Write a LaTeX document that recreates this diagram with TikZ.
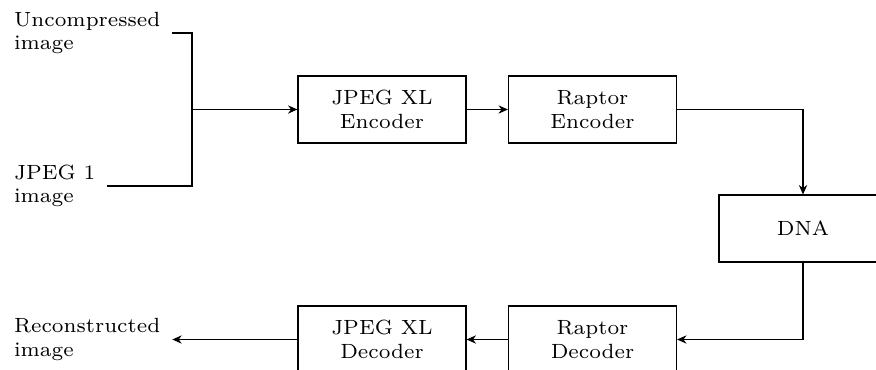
\documentclass[tikz,border=0pt]{standalone}
\usetikzlibrary{arrows.meta}

\tikzset{
  txt/.style={font=\fontsize{7.4}{8.4}\selectfont},
  stage/.style={txt, draw, minimum width=60.5pt, minimum height=24.1pt,
                align=center, inner sep=0pt},
  io/.style={txt, align=left, anchor=west, outer sep=1pt},
  flow/.style={-{Stealth[length=3.4pt, width=3pt, inset=1.1pt]}}
}

\begin{document}
\begin{tikzpicture}[x=0.36pt, y=-0.36pt, line width=0.4pt]
  \useasboundingbox (0,0) rectangle (876,370);
  \clip (0,0) rectangle (876,370);

  % inputs and output
  \node[io] (unc) at (2,33)    {Uncompressed\\image};
  \node[io] (jpg) at (2,186)   {JPEG 1\\image};
  \node[io] (rec) at (2,339.5) {Reconstructed\\image};

  % encoding chain
  \node[stage] (enc)  at (382,109.5)   {JPEG XL\\Encoder};
  \node[stage] (renc) at (592.5,109.5) {Raptor\\Encoder};
  \node[stage] (dna)  at (803,228.5)   {DNA};

  % decoding chain
  \node[stage] (rdec) at (592.5,339.5) {Raptor\\Decoder};
  \node[stage] (dec)  at (382,339.5)   {JPEG XL\\Decoder};

  % merge of the two inputs
  \coordinate (jtop) at (192,33);
  \coordinate (jbot) at (192,186);
  \coordinate (jmid) at (192,109.5);

  \draw (unc.east) -- (jtop) -- (jbot) -- (jpg.east);
  \draw[flow] (jmid) -- (enc.west);
  \draw[flow] (enc) -- (renc);
  \draw[flow] (renc.east) -| (dna.north);
  \draw[flow] (dna.south) |- (rdec.east);
  \draw[flow] (rdec) -- (dec);
  \draw[flow] (dec) -- (rec);
\end{tikzpicture}
\end{document}
